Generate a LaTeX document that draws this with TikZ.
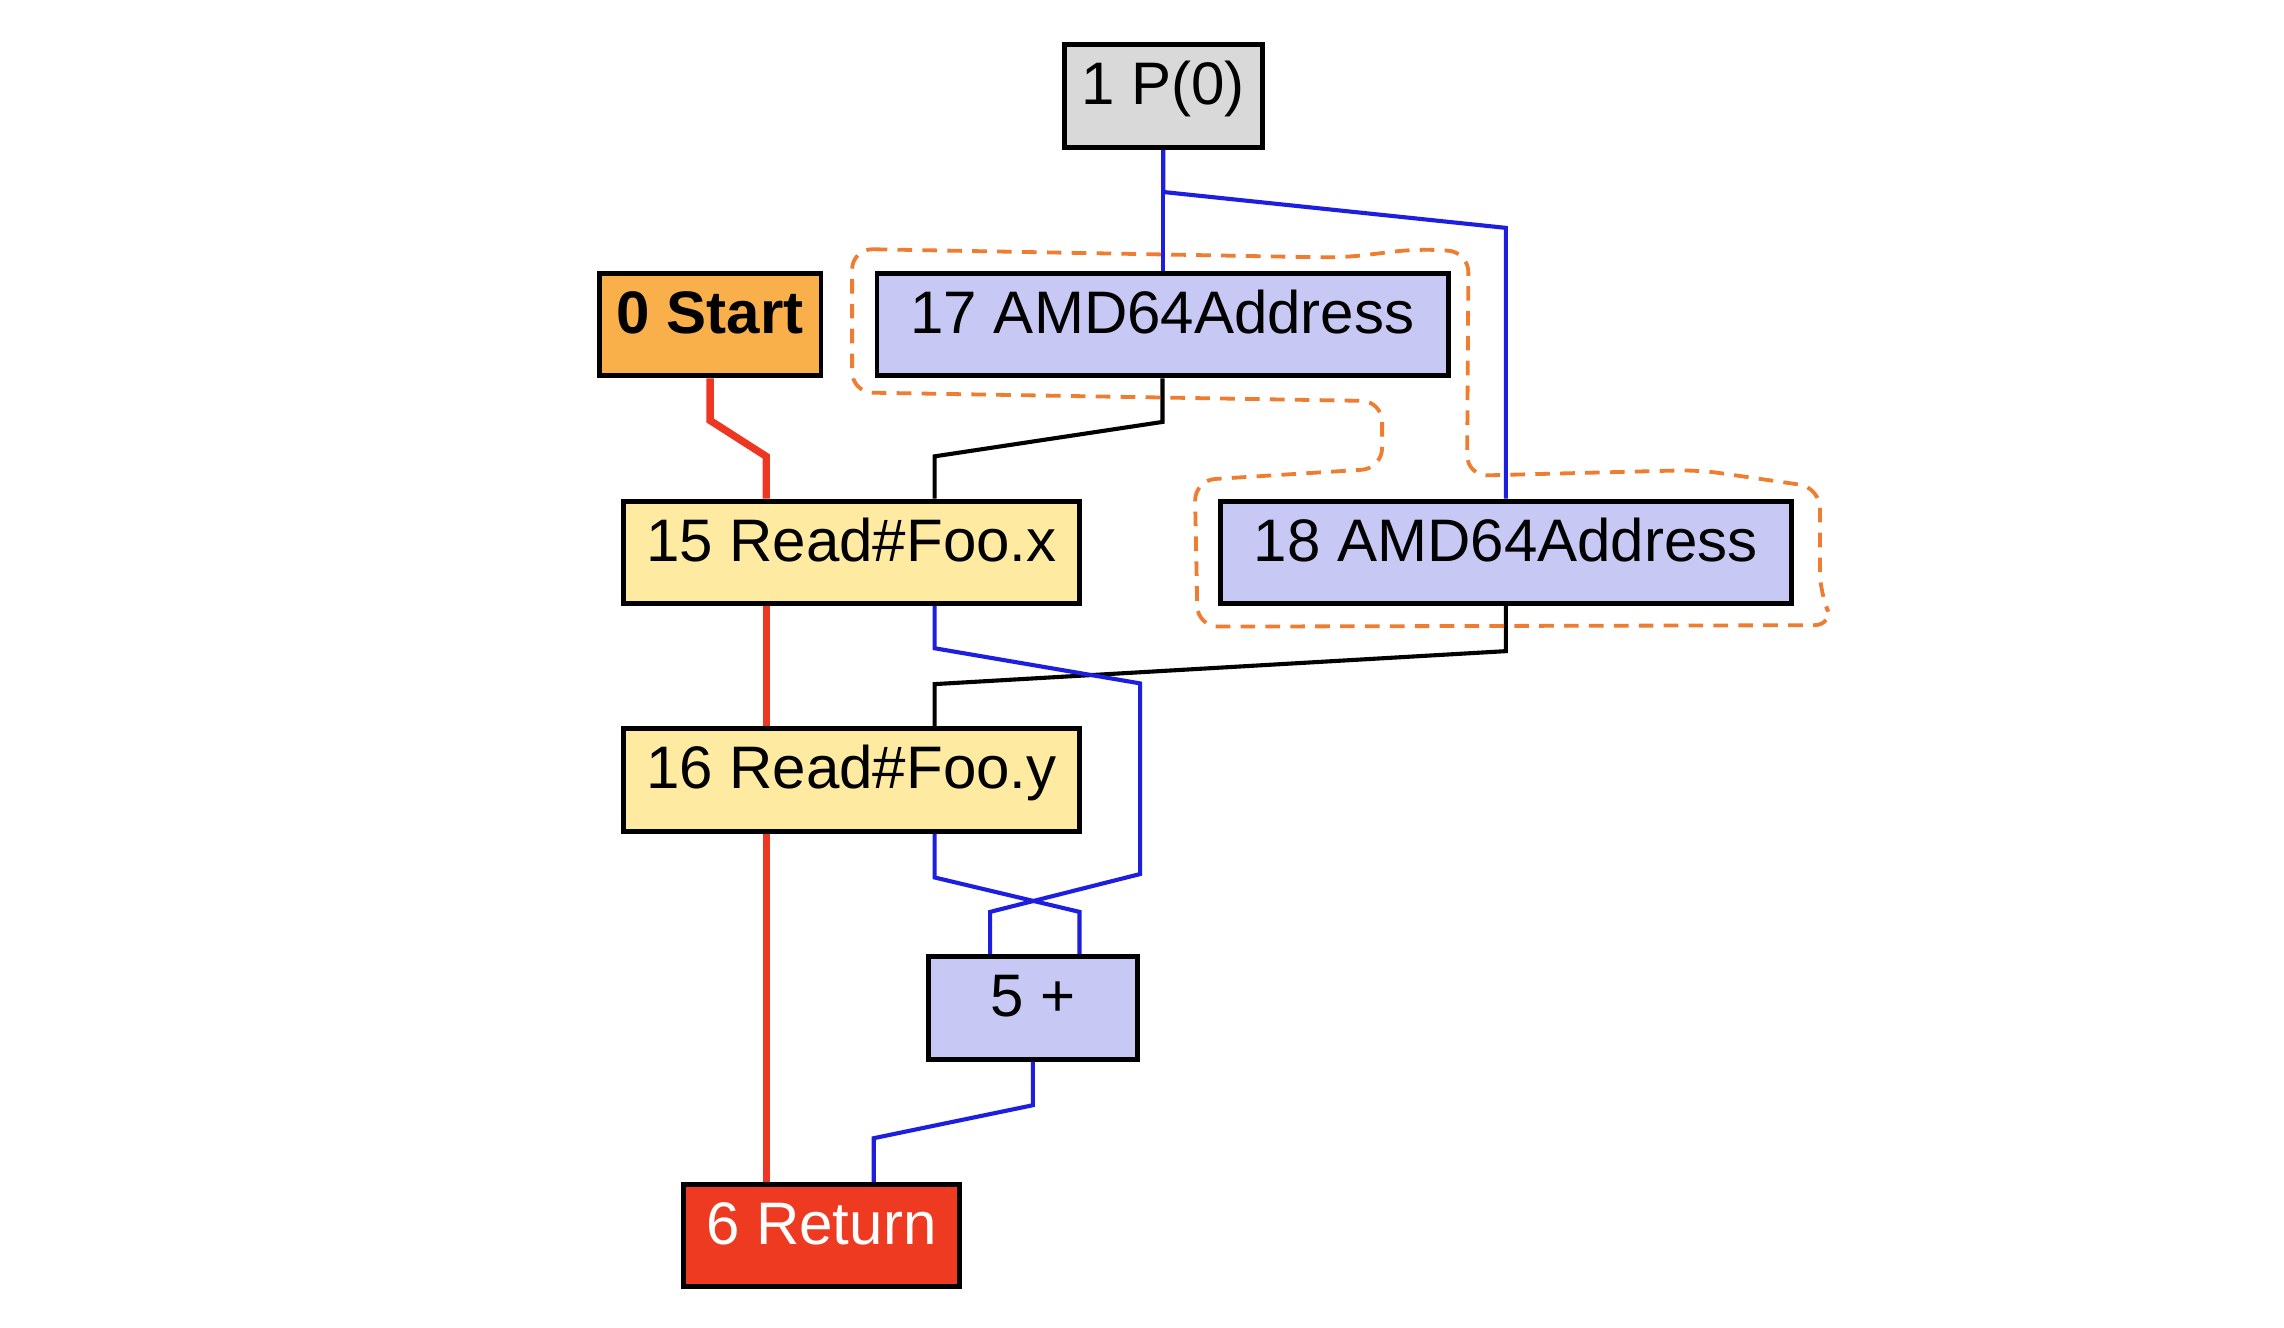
\documentclass[tikz,border=0pt]{standalone}
\usepackage{fontspec}
\setmainfont{Liberation Sans}
\usetikzlibrary{calc}
\definecolor{pgray}{RGB}{217,217,217}
\definecolor{porange}{RGB}{250,176,74}
\definecolor{plav}{RGB}{200,200,245}
\definecolor{pyel}{RGB}{254,234,160}
\definecolor{pred}{RGB}{238,58,32}
\definecolor{eblue}{RGB}{30,30,225}
\definecolor{ered}{RGB}{238,55,35}
\definecolor{clus}{RGB}{238,125,50}
\begin{document}
\begin{tikzpicture}[x=1pt,y=-1pt,
  gbox/.style={draw=black, line width=3.4pt, inner sep=0pt, minimum height=70pt,
    text height=29pt, text depth=17pt, font=\fontsize{41}{49}\selectfont},
  bl/.style={draw=eblue, line width=2.8pt},
  rl/.style={draw=ered, line width=5pt},
  kl/.style={draw=black, line width=2.8pt},
  cluster/.style={draw=clus, line width=2.6pt, dash pattern=on 10pt off 7pt, rounded corners=14pt}]
\useasboundingbox (0,0) rectangle (1560,907);
\fill[white] (0,0) rectangle (1560,907);

\begin{scope}[xshift=-2.5pt, y=-0.994pt]
\node[gbox, fill=pgray, minimum width=135.5pt] (p0) at (797,66) {1 P(0)};
\node[gbox, fill=porange, minimum width=151.5pt, font=\fontsize{41}{49}\selectfont\bfseries] (start) at (487.5,223) {0 Start};
\node[gbox, fill=plav, minimum width=390pt] (a17) at (796.5,223) {17 AMD64Address};
\node[gbox, fill=pyel, minimum width=311pt] (r15) at (584,379.5) {15 Read\#Foo.x};
\node[gbox, fill=plav, minimum width=390pt] (a18) at (1031,379.5) {18 AMD64Address};
\node[gbox, fill=pyel, minimum width=311pt] (r16) at (584,536) {16 Read\#Foo.y};
\node[gbox, fill=plav, minimum width=143pt] (plus) at (708,692.5) {5 +};
\node[gbox, fill=pred, minimum width=189pt, text=white] (ret) at (563.5,849) {6 Return};

\coordinate (cf) at ($(r15.north west)+(99,0)$);

% data edges
\draw[bl] (p0.south) -- (p0.south |- a17.north);
\draw[bl] (p0.south) -- ++(0,29) -- ($(a18.north)+(0,-186)$) -- (a18.north);
\draw[kl] (a17.south) -- ++(0,30) -- ($(r15.north west)+(214,-29)$) -- ($(r15.north west)+(214,0)$);
\draw[kl] (a18.south) -- ++(0,31) -- ($(r16.north west)+(214,-29)$) -- ($(r16.north west)+(214,0)$);
\draw[bl] ($(r15.south west)+(214,0)$) -- ++(0,29) -- ($(plus.north east)+(0,-186)$) -- ($(plus.north east)+(0,-55)$) -- ($(plus.north west)+(44,-29)$) -- ($(plus.north west)+(44,0)$);
\draw[bl] ($(r16.south west)+(214,0)$) -- ++(0,30) -- ($(plus.north west)+(105,-29)$) -- ($(plus.north west)+(105,0)$);
\draw[bl] (plus.south) -- ++(0,30) -- ($(ret.north west)+(132,-30)$) -- ($(ret.north west)+(132,0)$);

% control flow
\draw[rl] (start.south) -- ++(0,29) -- ($(cf)+(0,-29)$) -- (cf);
\draw[rl] (cf |- r15.south) -- (cf |- r16.north);
\draw[rl] (cf |- r16.south) -- (cf |- ret.north);
\end{scope}

% cluster outline
\draw[cluster] (582,170) -- (917,176) -- (968,170) -- (1003,172) -- (1002,325) -- (1160,321) -- (1243,333) -- (1243,405) -- (1253,427) -- (818,428) -- (816,328) -- (944,320) -- (944,274) -- (582,268) -- cycle;
\end{tikzpicture}
\end{document}
